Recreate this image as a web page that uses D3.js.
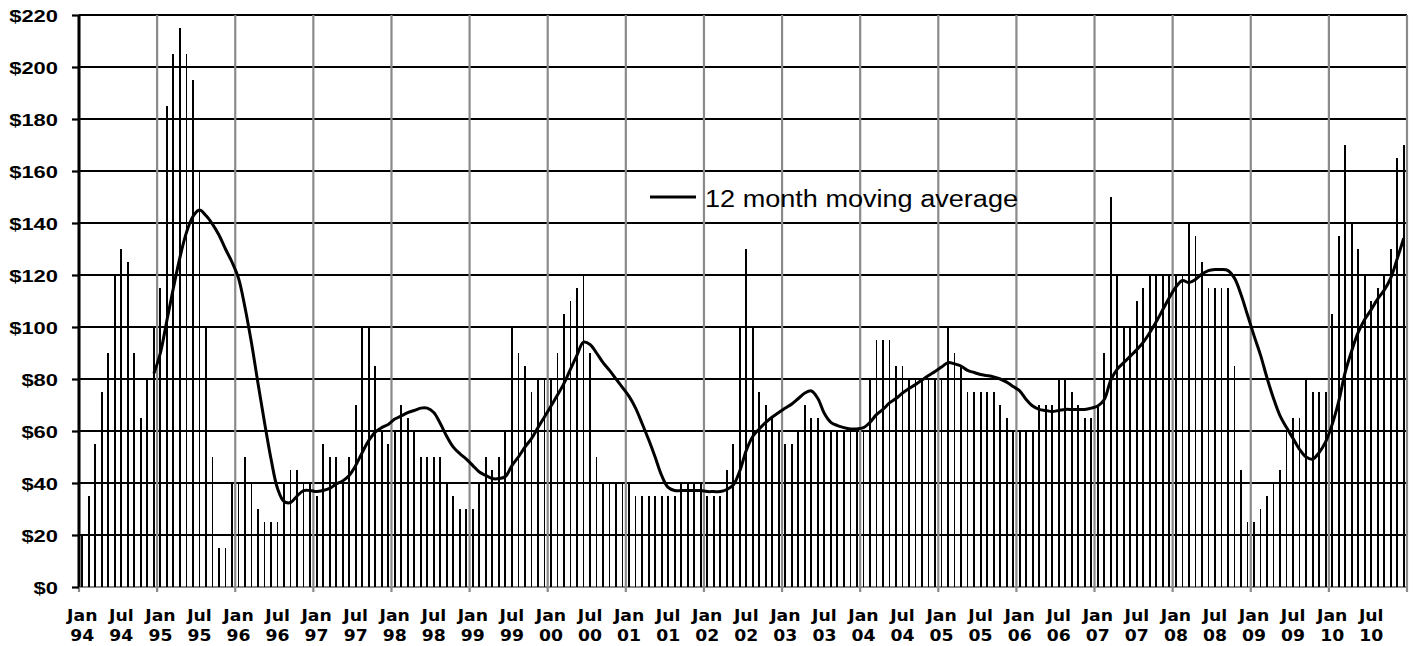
<!DOCTYPE html>
<html><head><meta charset="utf-8">
<script src="https://cdn.jsdelivr.net/npm/d3@7/dist/d3.min.js"></script>
<style>html,body{margin:0;padding:0;background:#fff;overflow:hidden}</style>
</head><body><svg id="c" width="1415" height="646"></svg>
<script>
// ---- data ----
const years = ["94","95","96","97","98","99","00","01","02","03","04","05","06","07","08","09","10"];
const monthNames = ["Jan","Feb","Mar","Apr","May","Jun","Jul","Aug","Sep","Oct","Nov","Dec"];
// monthly values, Jan 94 .. Dec 10 (one row per year)
const values = [
  20, 35, 55, 75, 90,120,130,125, 90, 65, 80,100,   // 1994
 115,185,205,215,205,195,160,100, 50, 15, 15, 40,   // 1995
  40, 50, 40, 30, 25, 25, 25, 40, 45, 45, 40, 40,   // 1996
  35, 55, 50, 50, 40, 50, 70,100,100, 85, 60, 55,   // 1997
  60, 70, 65, 60, 50, 50, 50, 50, 40, 35, 30, 30,   // 1998
  30, 40, 50, 45, 50, 60,100, 90, 85, 75, 80, 80,   // 1999
  80, 90,105,110,115,120, 90, 50, 40, 40, 40, 40,   // 2000
  40, 35, 35, 35, 35, 35, 35, 35, 40, 40, 40, 40,   // 2001
  35, 35, 35, 45, 55,100,130,100, 75, 70, 65, 60,   // 2002
  55, 55, 60, 70, 65, 65, 60, 60, 60, 60, 60, 60,   // 2003
  60, 80, 95, 95, 95, 85, 85, 80, 80, 80, 80, 80,   // 2004
  80,100, 90, 85, 75, 75, 75, 75, 75, 70, 65, 60,   // 2005
  60, 60, 60, 70, 70, 70, 80, 80, 75, 70, 65, 65,   // 2006
  70, 90,150,120,100,100,110,115,120,120,120,120,   // 2007
 120,120,140,135,125,115,115,115,115, 85, 45, 25,   // 2008
  25, 30, 35, 40, 45, 60, 65, 65, 80, 75, 75, 75,   // 2009
 105,135,170,140,130,120,110,115,120,130,165,170    // 2010
];
// 12 month moving average, Dec 94 .. Dec 10
const maStartMonth = 11;
const movingAvg = [
  82.1,
  90.0,102.5,115.0,126.7,136.3,142.5,145.0,142.9,139.6,135.4,130.0,125.0,
 118.8,107.5, 93.8, 78.3, 63.3, 49.2, 37.9, 32.9, 32.5, 35.0, 37.1, 37.1,
  36.7, 37.1, 37.9, 39.6, 40.8, 42.9, 46.7, 51.7, 56.3, 59.6, 61.3, 62.5,
  64.6, 65.8, 67.1, 67.9, 68.8, 68.8, 67.1, 62.9, 57.9, 53.8, 51.3, 49.2,
  46.7, 44.2, 42.9, 41.7, 41.7, 42.5, 46.7, 50.0, 53.8, 57.1, 61.3, 65.4,
  69.6, 73.8, 78.3, 83.8, 89.2, 94.2, 93.3, 90.0, 86.3, 83.3, 80.0, 76.7,
  73.3, 68.8, 62.9, 56.7, 50.0, 42.9, 38.3, 37.1, 37.1, 37.1, 37.1, 37.1,
  36.7, 36.7, 36.7, 37.5, 39.2, 44.6, 52.5, 57.9, 60.8, 63.3, 65.4, 67.1,
  68.8, 70.4, 72.5, 74.6, 75.4, 72.5, 66.7, 63.3, 62.1, 61.3, 60.8, 60.8,
  61.3, 63.3, 66.3, 68.3, 70.8, 72.5, 74.6, 76.3, 77.9, 79.6, 81.3, 82.9,
  84.6, 86.3, 85.8, 85.0, 83.3, 82.5, 81.7, 81.3, 80.8, 80.0, 78.8, 77.1,
  75.4, 72.1, 69.6, 68.3, 67.9, 67.5, 67.9, 68.3, 68.3, 68.3, 68.3, 68.8,
  69.6, 72.1, 79.6, 83.8, 86.3, 88.8, 91.3, 94.2, 97.9,102.1,106.7,111.3,
 115.4,117.9,117.1,118.3,120.4,121.7,122.1,122.1,121.7,118.8,112.5,104.6,
  96.7, 89.2, 80.4, 72.5, 65.8, 61.3, 57.1, 52.9, 50.0, 49.2, 51.7, 55.8,
  62.5, 71.3, 82.5, 90.8, 97.9,102.9,106.7,110.8,114.2,118.8,126.3,134.2
];
const yTicks = [0,20,40,60,80,100,120,140,160,180,200,220];
const xTickLabels = ["Jan 94","Jul 94","Jan 95","Jul 95","Jan 96","Jul 96","Jan 97","Jul 97",
  "Jan 98","Jul 98","Jan 99","Jul 99","Jan 00","Jul 00","Jan 01","Jul 01","Jan 02","Jul 02",
  "Jan 03","Jul 03","Jan 04","Jul 04","Jan 05","Jul 05","Jan 06","Jul 06","Jan 07","Jul 07",
  "Jan 08","Jul 08","Jan 09","Jul 09","Jan 10","Jul 10"];
const legendLabel = "12 month moving average";

// ---- build ----
const months = [];
years.forEach(yr => monthNames.forEach(m => months.push(m + " " + yr)));

const svg = d3.select("#c");
const L = 79, R = 1407, T = 15, B = 587;
const x = d3.scaleBand().domain(months).range([L, R]).paddingInner(0).paddingOuter(0);
const y = d3.scaleLinear().domain([0, 220]).range([B, T]);
const bw = x.bandwidth();

svg.append("rect").attr("width",1415).attr("height",646).attr("fill","#fff");

// horizontal gridlines
svg.append("g").selectAll("line").data(yTicks.filter(t => t > 0)).join("line")
  .attr("x1", L).attr("x2", R).attr("y1", d => y(d)).attr("y2", d => y(d))
  .attr("stroke", "#000").attr("stroke-width", 2.2);
// x-axis baseline (gray)
svg.append("line").attr("x1", L).attr("x2", R).attr("y1", y(0)).attr("y2", y(0))
  .attr("stroke", "#8a8a8a").attr("stroke-width", 2.2);

// vertical gridlines every January (+ right border)
const janIdx = d3.range(0, months.length + 1, 12);
svg.append("g").selectAll("line").data(janIdx).join("line")
  .attr("x1", i => i < months.length ? x(months[i]) : R)
  .attr("x2", i => i < months.length ? x(months[i]) : R)
  .attr("y1", T).attr("y2", B + 5)
  .attr("stroke", "#8a8a8a").attr("stroke-width", 2.2);

// bars
const barW = 1.8;
svg.append("g").attr("shape-rendering", "crispEdges").selectAll("rect")
  .data(values).join("rect")
  .attr("x", (d, i) => x(months[i]) + (bw - barW) / 2)
  .attr("width", barW)
  .attr("y", d => y(d))
  .attr("height", d => B - y(d))
  .attr("fill", "#000");

// y axis
const yAxis = svg.append("g").attr("transform", `translate(${L},0)`)
  .call(d3.axisLeft(y).tickValues(yTicks).tickSize(7).tickPadding(0).tickFormat(d => "$" + d));
yAxis.select(".domain").attr("stroke", "#000").attr("stroke-width", 3)
  .attr("d", `M0,${T}V${B}`);
yAxis.selectAll(".tick line").attr("stroke", "#000").attr("stroke-width", 2.2);
yAxis.selectAll(".tick text")
  .attr("x", 0).attr("dy", null)
  .attr("transform", "translate(-21,6.5) scale(1.33,1)")
  .attr("text-anchor", "end")
  .style("font-family", "'Liberation Sans', Arial, sans-serif")
  .style("font-weight", "bold").style("font-size", "16.5px").attr("fill", "#000");

// x axis
const xAxis = svg.append("g").attr("transform", `translate(0,${B})`)
  .call(d3.axisBottom(x).tickValues(xTickLabels).tickSize(0).tickPadding(0));
xAxis.select(".domain").remove();
xAxis.selectAll(".tick text").each(function(d) {
  const t = d3.select(this);
  const parts = d.split(" ");
  t.text(null).attr("y", 0).attr("dy", null)
    .attr("transform", "scale(1.15,1)")
    .style("font-family", "'DejaVu Sans', Verdana, sans-serif")
    .style("font-weight", "bold").style("font-size", "15px").attr("fill", "#000");
  t.append("tspan").attr("x", 0).attr("y", 34).text(parts[0]);
  t.append("tspan").attr("x", 0).attr("y", 54).text(parts[1]);
});

// moving average line
const line = d3.line()
  .x((d, k) => x(months[k + maStartMonth]) + bw / 2)
  .y(d => y(d))
  .curve(d3.curveCatmullRom.alpha(0.5));
svg.append("path").datum(movingAvg).attr("d", line)
  .attr("fill", "none").attr("stroke", "#000").attr("stroke-width", 3)
  .attr("stroke-linejoin", "round");

// legend
const lg = svg.append("g");
lg.append("line").attr("x1", 650).attr("x2", 696).attr("y1", 197).attr("y2", 197)
  .attr("stroke", "#000").attr("stroke-width", 3);
lg.append("text").attr("x", 705).attr("y", 207)
  .attr("textLength", 313).attr("lengthAdjust", "spacingAndGlyphs")
  .style("font-family", "'Liberation Sans', Arial, sans-serif")
  .style("font-size", "23px").attr("fill", "#000").text(legendLabel);
</script></body></html>
